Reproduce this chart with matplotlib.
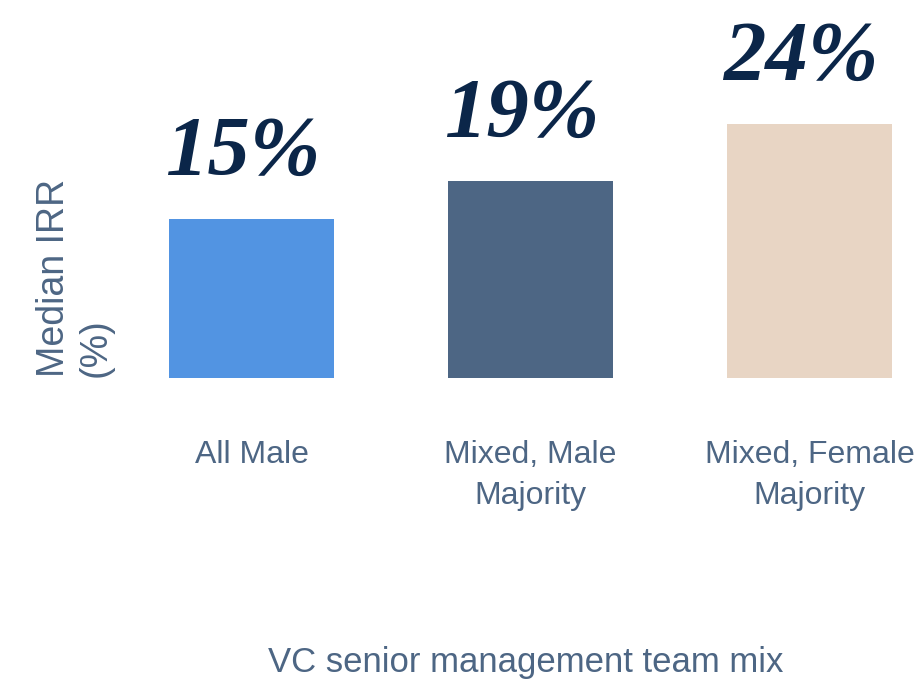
import matplotlib
matplotlib.use("Agg")
import matplotlib.pyplot as plt

categories = ["All Male", "Mixed, Male\nMajority", "Mixed, Female\nMajority"]
values = [15.0, 18.6, 24.0]
bar_colors = ["#5294E2", "#4D6684", "#E8D5C4"]
x_title = "VC senior management team mix"
y_title = "Median IRR\n(%)"

W, H = 917, 685
fig = plt.figure(figsize=(W / 100, H / 100), dpi=100)

# axes geometry in pixels
left_px, right_px = 112, 917
base_px = 377.7          # baseline (from top)
px_per_x = 279.0
px_per_y = 10.55
ax = fig.add_axes([left_px / W, (H - base_px) / H, (right_px - left_px) / W, base_px / H])
ax.set_xlim(-0.5, -0.5 + (right_px - left_px) / px_per_x)
ax.set_ylim(0, base_px / px_per_y)

xs = list(range(len(categories)))
bars = ax.bar(xs, values, width=0.59, color=bar_colors, zorder=2)

for b, v in zip(bars, values):
    ax.annotate(f"{v:.0f}%", xy=(b.get_x() + b.get_width() / 2, v),
                xytext=(-6, 32), textcoords="offset points",
                ha="center", va="baseline",
                fontsize=61, fontweight="bold", fontstyle="italic",
                family="Liberation Serif", color="#0B2649")

for s in ax.spines.values():
    s.set_visible(False)
ax.set_yticks([])
ax.set_xticks(xs)
ax.set_xticklabels(categories, fontsize=23, family="Liberation Sans",
                   color="#4D6684", linespacing=1.45)
ax.tick_params(axis="x", length=0, pad=45)

fig.text(75 / W, 1 - 377 / H, y_title, rotation=90, ha="center", va="bottom",
         multialignment="left", fontsize=27, family="Liberation Sans",
         color="#4D6684", linespacing=1.2)

fig.text(526 / W, (H - 672) / H, x_title, ha="center", va="baseline",
         fontsize=25, family="Liberation Sans", color="#4D6684")

fig.savefig("out.png", dpi=100)
